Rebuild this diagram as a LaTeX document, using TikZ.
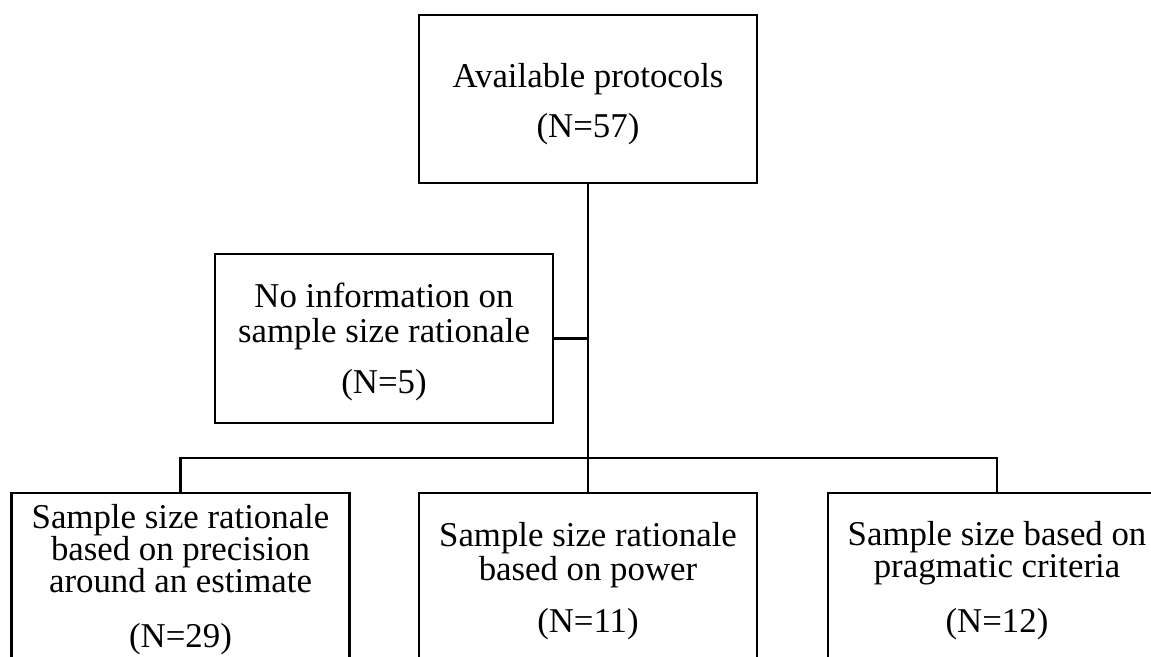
\documentclass[tikz,border=0pt]{standalone}
\usepackage{fontspec}
\setmainfont{Liberation Serif}
\begin{document}
\begin{tikzpicture}[x=1pt,y=-1pt,
  box/.style={draw=black, line width=2.6pt, rectangle, inner sep=0pt, minimum width=338pt},
  txt/.style={font=\fontsize{34.8}{34}\selectfont, anchor=base, inner sep=0pt},
  conn/.style={draw=black, line width=2.6pt}]
\useasboundingbox (0,0) rectangle (1151,656);
\clip (0,0) rectangle (1151,656);
% boxes
\node[box, minimum height=168pt] (top) at (588,99) {};
\node[box, minimum height=169pt] (mid) at (384,338.5) {};
\node[box, minimum height=207pt] (bl) at (180.5,596.5) {};
\node[box, minimum height=207pt] (bm) at (588,596.5) {};
\node[box, minimum height=207pt] (br) at (997,596.5) {};
% texts
\node[txt] (t1) at (588,87) {Available protocols};
\node[txt] (t2) at (588,137) {(N=57)};
\node[txt] (m1) at (384,307) {No information on};
\node[txt] (m2) at (384,342) {sample size rationale};
\node[txt] (m3) at (384,393) {(N=5)};
\node[txt] (l1) at (180.5,528) {Sample size rationale};
\node[txt] (l2) at (180.5,560) {based on precision};
\node[txt] (l3) at (180.5,592) {around an estimate};
\node[txt] (l4) at (180.5,647) {(N=29)};
\node[txt] (c1) at (588,546) {Sample size rationale};
\node[txt] (c2) at (588,580) {based on power};
\node[txt] (c3) at (588,632) {(N=11)};
\node[txt] (r1) at (997,545) {Sample size based on};
\node[txt] (r2) at (997,577) {pragmatic criteria};
\node[txt] (r3) at (997,632) {(N=12)};
% connectors
\coordinate (bus) at (588,458);
\draw[conn] (top.south) -- (bm.north);
\draw[conn] (mid.east) -- (mid.east -| top.south);
\draw[conn] (bl.north) |- (bus) -| (br.north);
\end{tikzpicture}
\end{document}
